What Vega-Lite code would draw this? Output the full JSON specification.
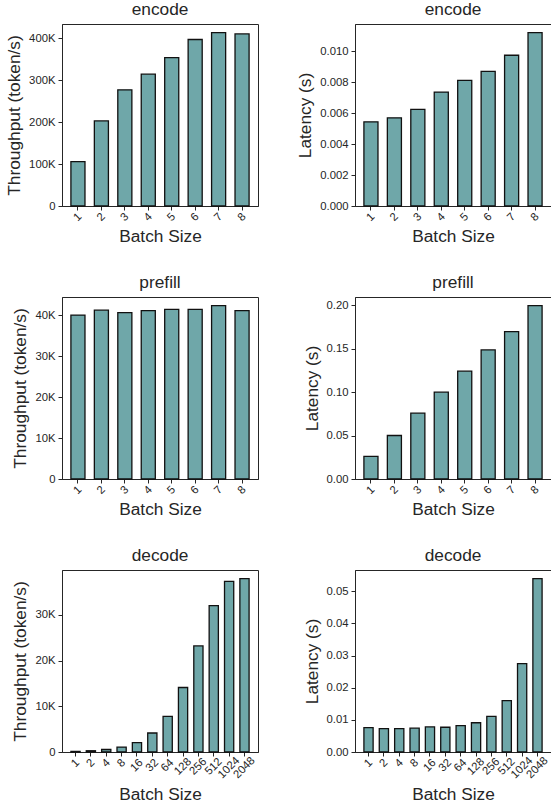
{
  "$schema": "https://vega.github.io/schema/vega-lite/v6.json",
  "datasets": {
    "encode": [
      {"batch": "1", "throughput": 105700, "latency": 0.00544},
      {"batch": "2", "throughput": 202700, "latency": 0.0057},
      {"batch": "3", "throughput": 276700, "latency": 0.00624},
      {"batch": "4", "throughput": 314000, "latency": 0.00736},
      {"batch": "5", "throughput": 353700, "latency": 0.00812},
      {"batch": "6", "throughput": 396700, "latency": 0.0087},
      {"batch": "7", "throughput": 413000, "latency": 0.00974},
      {"batch": "8", "throughput": 410000, "latency": 0.0112}
    ],
    "prefill": [
      {"batch": "1", "throughput": 40100, "latency": 0.0259},
      {"batch": "2", "throughput": 41300, "latency": 0.050},
      {"batch": "3", "throughput": 40700, "latency": 0.0757},
      {"batch": "4", "throughput": 41200, "latency": 0.0998},
      {"batch": "5", "throughput": 41500, "latency": 0.1239},
      {"batch": "6", "throughput": 41500, "latency": 0.1484},
      {"batch": "7", "throughput": 42400, "latency": 0.1694},
      {"batch": "8", "throughput": 41200, "latency": 0.1992}
    ],
    "decode": [
      {"batch": "1", "throughput": 133, "latency": 0.00758},
      {"batch": "2", "throughput": 274, "latency": 0.0073},
      {"batch": "4", "throughput": 548, "latency": 0.0073},
      {"batch": "8", "throughput": 1081, "latency": 0.0074},
      {"batch": "16", "throughput": 2051, "latency": 0.0078},
      {"batch": "32", "throughput": 4156, "latency": 0.0077},
      {"batch": "64", "throughput": 7805, "latency": 0.0082},
      {"batch": "128", "throughput": 14100, "latency": 0.0091},
      {"batch": "256", "throughput": 23200, "latency": 0.0111},
      {"batch": "512", "throughput": 32000, "latency": 0.016},
      {"batch": "1024", "throughput": 37300, "latency": 0.0275},
      {"batch": "2048", "throughput": 37900, "latency": 0.0539}
    ]
  },
  "padding": {"left": 5, "top": 0, "right": 0, "bottom": 0},
  "config": {
    "font": "Liberation Sans",
    "view": {"stroke": "#262626", "strokeWidth": 1},
    "axis": {
      "domainColor": "#262626", "tickColor": "#262626", "labelColor": "#262626", "titleColor": "#262626",
      "labelFont": "Liberation Sans", "titleFont": "Liberation Sans",
      "labelFontSize": 11.3, "titleFontSize": 17.3, "titleFontWeight": "normal",
      "grid": false, "tickSize": 4, "labelPadding": 3, "titlePadding": 5
    },
    "axisX": {
      "labelAngle": -45, "labelAlign": "center", "labelBaseline": "middle", "labelOverlap": false,
      "labelPadding": {"condition": [
        {"test": "length(datum.label) >= 4", "value": 11.5},
        {"test": "length(datum.label) == 3", "value": 10.3},
        {"test": "length(datum.label) == 2", "value": 9.2}
      ], "value": 7}
    },
    "title": {"fontSize": 17.3, "fontWeight": "normal", "color": "#262626", "font": "Liberation Sans", "offset": 6},
    "bar": {"fill": "#6fa7a9", "stroke": "#111111", "strokeWidth": 1.3}
  },
  "columns": 2,
  "spacing": {"row": 27, "column": 37},
  "concat": [
    {
      "title": "encode", "width": 196, "height": 182,
      "data": {"name": "encode"},
      "mark": "bar",
      "encoding": {
        "x": {"field": "batch", "type": "ordinal", "sort": null, "title": "Batch Size", "scale": {"paddingInner": 0.4, "paddingOuter": 0.38}},
        "y": {"field": "throughput", "type": "quantitative", "title": "Throughput (token/s)",
              "scale": {"domain": [0, 433650], "nice": false},
              "axis": {"values": [0, 100000, 200000, 300000, 400000], "labelExpr": "datum.value == 0 ? '0' : format(datum.value / 1000, 'd') + 'K'"}}
      }
    },
    {
      "title": "encode", "width": 196, "height": 182,
      "data": {"name": "encode"},
      "mark": "bar",
      "encoding": {
        "x": {"field": "batch", "type": "ordinal", "sort": null, "title": "Batch Size", "scale": {"paddingInner": 0.4, "paddingOuter": 0.38}},
        "y": {"field": "latency", "type": "quantitative", "title": "Latency (s)",
              "scale": {"domain": [0, 0.01176], "nice": false},
              "axis": {"values": [0, 0.002, 0.004, 0.006, 0.008, 0.010], "format": ".3f"}}
      }
    },
    {
      "title": "prefill", "width": 196, "height": 182,
      "data": {"name": "prefill"},
      "mark": "bar",
      "encoding": {
        "x": {"field": "batch", "type": "ordinal", "sort": null, "title": "Batch Size", "scale": {"paddingInner": 0.4, "paddingOuter": 0.38}},
        "y": {"field": "throughput", "type": "quantitative", "title": "Throughput (token/s)",
              "scale": {"domain": [0, 44520], "nice": false},
              "axis": {"values": [0, 10000, 20000, 30000, 40000], "labelExpr": "datum.value == 0 ? '0' : format(datum.value / 1000, 'd') + 'K'"}}
      }
    },
    {
      "title": "prefill", "width": 196, "height": 182,
      "data": {"name": "prefill"},
      "mark": "bar",
      "encoding": {
        "x": {"field": "batch", "type": "ordinal", "sort": null, "title": "Batch Size", "scale": {"paddingInner": 0.4, "paddingOuter": 0.38}},
        "y": {"field": "latency", "type": "quantitative", "title": "Latency (s)",
              "scale": {"domain": [0, 0.2092], "nice": false},
              "axis": {"values": [0, 0.05, 0.10, 0.15, 0.20], "format": ".2f"}}
      }
    },
    {
      "title": "decode", "width": 196, "height": 182,
      "data": {"name": "decode"},
      "mark": "bar",
      "encoding": {
        "x": {"field": "batch", "type": "ordinal", "sort": null, "title": "Batch Size", "scale": {"paddingInner": 0.4, "paddingOuter": 0.58}},
        "y": {"field": "throughput", "type": "quantitative", "title": "Throughput (token/s)",
              "scale": {"domain": [0, 39800], "nice": false},
              "axis": {"values": [0, 10000, 20000, 30000], "labelExpr": "datum.value == 0 ? '0' : format(datum.value / 1000, 'd') + 'K'"}}
      }
    },
    {
      "title": "decode", "width": 196, "height": 182,
      "data": {"name": "decode"},
      "mark": "bar",
      "encoding": {
        "x": {"field": "batch", "type": "ordinal", "sort": null, "title": "Batch Size", "scale": {"paddingInner": 0.4, "paddingOuter": 0.58}},
        "y": {"field": "latency", "type": "quantitative", "title": "Latency (s)",
              "scale": {"domain": [0, 0.0566], "nice": false},
              "axis": {"values": [0, 0.01, 0.02, 0.03, 0.04, 0.05], "format": ".2f"}}
      }
    }
  ]
}
